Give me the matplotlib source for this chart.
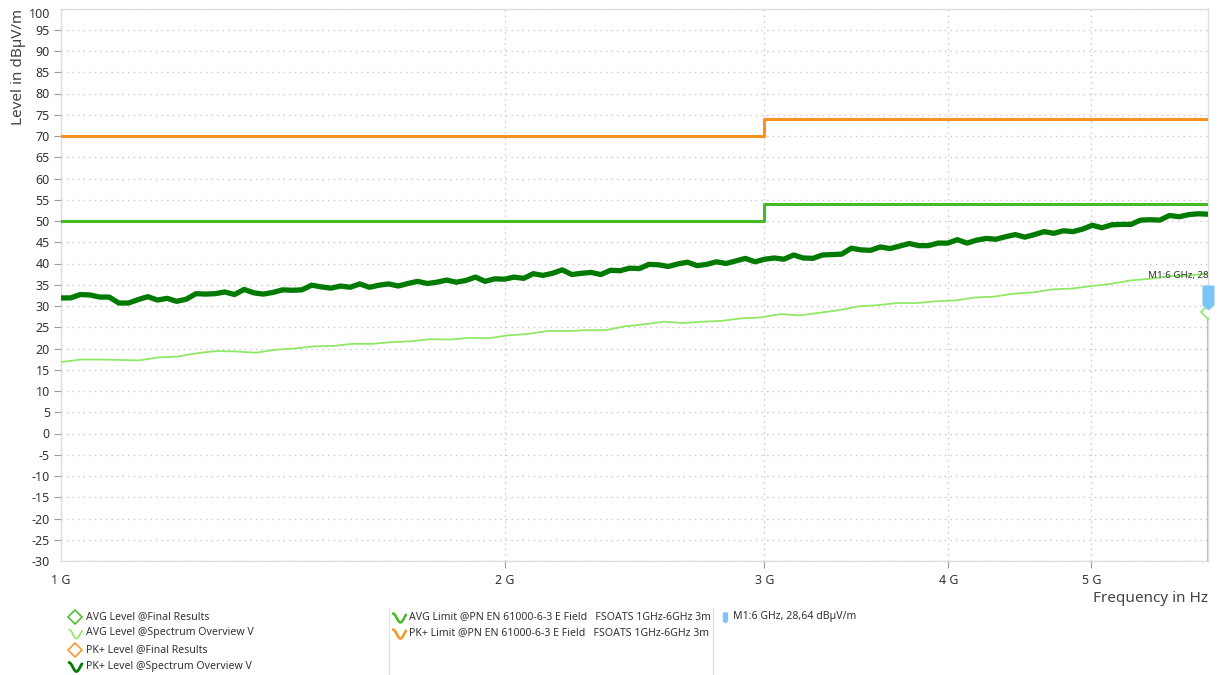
import numpy as np
import matplotlib
matplotlib.use("Agg")
import matplotlib.pyplot as plt
from matplotlib.path import Path

plt.rcParams['font.family'] = ['Noto Sans', 'DejaVu Sans']
plt.rcParams['axes.unicode_minus'] = False

# --- DATA ---
# PK+ level, spectrum overview (dBuV/m), read off the picture along the sweep
pk_level = [31.9, 31.9, 32.7, 32.6, 32.1, 32.1, 30.7, 30.7, 31.5, 32.2,
            31.4, 31.8, 31.1, 31.6, 32.9, 32.8, 32.9, 33.3, 32.7, 33.9,
            33.1, 32.8, 33.2, 33.8, 33.7, 33.8, 34.9, 34.5, 34.2, 34.7,
            34.4, 35.2, 34.4, 34.9, 35.2, 34.7, 35.3, 35.8, 35.3, 35.6,
            36.1, 35.6, 36.0, 36.8, 35.8, 36.4, 36.3, 36.8, 36.5, 37.6,
            37.2, 37.7, 38.5, 37.4, 37.7, 37.9, 37.4, 38.4, 38.3, 38.9,
            38.8, 39.8, 39.7, 39.3, 39.9, 40.3, 39.5, 39.8, 40.4, 40.0,
            40.6, 41.2, 40.4, 41.0, 41.3, 41.0, 42.0, 41.3, 41.2, 42.0,
            42.1, 42.2, 43.6, 43.2, 43.1, 43.9, 43.5, 44.1, 44.7, 44.2,
            44.2, 44.8, 44.8, 45.6, 44.8, 45.5, 45.9, 45.7, 46.3, 46.8,
            46.2, 46.8, 47.5, 47.1, 47.7, 47.5, 48.1, 49.0, 48.4, 49.1,
            49.2, 49.2, 50.2, 50.3, 50.2, 51.3, 51.0, 51.5, 51.7, 51.6]

# AVG level, spectrum overview (dBuV/m)
avg_level = [16.8, 17.4, 17.4, 17.3, 17.2, 17.9, 18.1, 18.9, 19.4, 19.3,
             19.0, 19.7, 20.0, 20.5, 20.6, 21.1, 21.1, 21.5, 21.7, 22.2,
             22.1, 22.5, 22.4, 23.1, 23.4, 24.1, 24.1, 24.3, 24.3, 25.2,
             25.7, 26.3, 26.0, 26.3, 26.5, 27.1, 27.3, 28.1, 27.8, 28.4,
             29.0, 29.9, 30.2, 30.7, 30.7, 31.1, 31.3, 32.0, 32.2, 32.9,
             33.2, 33.9, 34.1, 34.7, 35.2, 36.0, 36.4, 37.0, 37.2, 37.6]

# sweep grids (log spaced, 1 GHz .. 6 GHz)
pk_freq = np.geomspace(1e9, 6e9, len(pk_level))
avg_freq = np.geomspace(1e9, 6e9, len(avg_level))

# limit lines EN 61000-6-3
limit_freq = [1e9, 3e9, 6e9]
avg_limit = [50, 54, 54]
pk_limit = [70, 74, 74]

# final result / marker
marker_freq = 6e9
marker_level = 28.64

x_ticks = [1e9, 2e9, 3e9, 4e9, 5e9]
x_tick_labels = ['1 G', '2 G', '3 G', '4 G', '5 G']
y_ticks = list(range(-30, 101, 5))

# colours
C_ORANGE = '#F7931E'
C_LIMIT_GREEN = '#44BB22'
C_PK = '#007A00'
C_AVG = '#8FE866'
C_BLUE = '#7CC4F8'
C_GRID = '#C8C8C8'
C_TEXT = '#333333'

W, H = 1221, 675
fig = plt.figure(figsize=(W / 100, H / 100), dpi=100)
ax = fig.add_axes([61 / W, 1 - 561 / H, (1208 - 61) / W, (561 - 8.5) / H])

ax.set_xscale('log')
ax.set_xlim(1e9, 6e9)
ax.set_ylim(-30, 100)

# grid
ax.set_yticks(y_ticks)
ax.set_xticks(x_ticks)
ax.set_xticklabels(x_tick_labels)
ax.xaxis.set_minor_locator(matplotlib.ticker.NullLocator())
ax.grid(True, which='major', color=C_GRID, linestyle=(0, (1, 3)), linewidth=1.0)
ax.set_axisbelow(True)

# traces
ax.plot(avg_freq, avg_level, color=C_AVG, linewidth=1.3, zorder=3)
ax.plot(pk_freq, pk_level, color=C_PK, linewidth=3.8, zorder=4)
ax.plot(limit_freq, avg_limit, color=C_LIMIT_GREEN, linewidth=2.2,
        drawstyle='steps-post', zorder=5)
ax.plot(limit_freq, pk_limit, color=C_ORANGE, linewidth=2.2,
        drawstyle='steps-post', zorder=5)

# final result at marker frequency
ax.plot([marker_freq, marker_freq], [-30, marker_level], color=C_AVG,
        linewidth=1.5, zorder=6)
ax.plot([marker_freq], [marker_level], marker='D', markersize=7,
        markerfacecolor='white', markeredgecolor=C_AVG, markeredgewidth=1.2,
        zorder=7)

# marker M1 flag (tip sits on the marker position)
flag = Path([(-0.48, 2.0), (0.48, 2.0), (0.48, 0.4), (0.0, 0.0), (-0.48, 0.4), (-0.48, 2.0)],
            [Path.MOVETO, Path.LINETO, Path.LINETO, Path.LINETO, Path.LINETO, Path.CLOSEPOLY])
ax.plot([marker_freq], [marker_level + 0.4], marker=flag, markersize=36,
        color=C_BLUE, markeredgewidth=0, clip_on=False, zorder=8)
ax.annotate(f'M1:6 GHz, {marker_level:.2f}'.replace('.', ',') + ' dBµV/m',
            xy=(marker_freq, marker_level), xytext=(-60, 36),
            textcoords='offset pixels', fontsize=7.0, color=C_TEXT,
            ha='left', va='center', annotation_clip=False, clip_on=True, zorder=9)

# axes styling
for s in ax.spines.values():
    s.set_color('#DDDDDD')
    s.set_linewidth(1.0)
ax.tick_params(axis='both', colors='#999999', labelcolor=C_TEXT, labelsize=9,
               length=5, width=0.8)
ax.tick_params(axis='y', pad=3)
ax.tick_params(axis='x', pad=4)
ylabels = ax.get_yticklabels()
ylabels[-1].set_verticalalignment('top')
ax.yaxis.get_major_ticks()[-1].tick1line.set_visible(False)
ax.yaxis.get_major_ticks()[0].tick1line.set_visible(False)
ax.xaxis.get_major_ticks()[0].tick1line.set_visible(False)

ax.set_ylabel('Level in dBµV/m', fontsize=11, color='#444444', loc='top', labelpad=2)
ax.set_xlabel('Frequency in Hz', fontsize=11, color='#444444', loc='right', labelpad=3)

# legend area, drawn in pixel coordinates
lg = fig.add_axes([0, 0, 1, 1], zorder=-1)
lg.set_xlim(0, W)
lg.set_ylim(H, 0)
lg.axis('off')

def wave(x0, y0, color, lw):
    t = np.linspace(0, 1.75 * np.pi, 30)
    lg.plot(x0 + t / (1.75 * np.pi) * 13, y0 - 4.5 * np.cos(t) + 1, color=color,
            linewidth=lw, solid_capstyle='round')

def diamond(x0, y0, color):
    lg.plot([x0 + 6], [y0], marker='D', markersize=7, markerfacecolor='white',
            markeredgecolor=color, markeredgewidth=1.1)

fs = 7.6
rows = [617, 633, 650, 666]
diamond(69, rows[0], C_LIMIT_GREEN)
lg.text(86, rows[0], 'AVG Level @Final Results', fontsize=fs, color=C_TEXT, va='center')
wave(69, rows[1], C_AVG, 1.2)
lg.text(86, rows[1], 'AVG Level @Spectrum Overview V', fontsize=fs, color=C_TEXT, va='center')
diamond(69, rows[2], C_ORANGE)
lg.text(86, rows[2], 'PK+ Level @Final Results', fontsize=fs, color=C_TEXT, va='center')
wave(69, rows[3], C_PK, 2.0)
lg.text(86, rows[3], 'PK+ Level @Spectrum Overview V', fontsize=fs, color=C_TEXT, va='center')

wave(393, rows[0], C_LIMIT_GREEN, 1.8)
lg.text(409, rows[0], 'AVG Limit @PN EN 61000-6-3 E Field   FSOATS 1GHz-6GHz 3m',
        fontsize=fs, color=C_TEXT, va='center')
wave(393, rows[1], C_ORANGE, 1.8)
lg.text(409, rows[1], 'PK+ Limit @PN EN 61000-6-3 E Field   FSOATS 1GHz-6GHz 3m',
        fontsize=fs, color=C_TEXT, va='center')

lg.plot([724.5], [rows[0] + 6], marker=flag, markersize=16, color=C_BLUE, markeredgewidth=0)
lg.text(733, rows[0], f'M1:6 GHz, {marker_level:.2f}'.replace('.', ',') + ' dBµV/m',
        fontsize=fs, color=C_TEXT, va='center')

for xs in (389, 713):
    lg.plot([xs, xs], [608, H], color='#E3E3E3', linewidth=1.0)

fig.savefig('out.png', dpi=100)
